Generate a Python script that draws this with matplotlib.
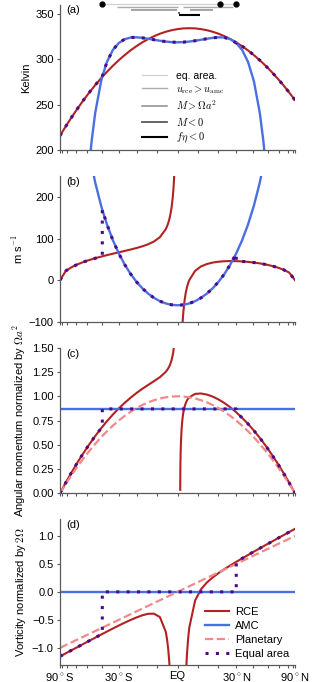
import numpy as np
import matplotlib
matplotlib.use('Agg')
import matplotlib.pyplot as plt
from matplotlib.lines import Line2D

plt.rcParams['font.family'] = ['Liberation Sans', 'DejaVu Sans']
plt.rcParams['mathtext.fontset'] = 'cm'
plt.rcParams['axes.unicode_minus'] = True

# x axis is sine of latitude
sinlat_full = [-1.0, -0.95, -0.9, -0.85, -0.8, -0.75, -0.7, -0.65, -0.64, -0.6, -0.55, -0.5, -0.45, -0.4,
               -0.35, -0.3, -0.25, -0.2, -0.15, -0.1, -0.05, 0.0, 0.05, 0.1, 0.15, 0.2, 0.25, 0.3, 0.35,
               0.4, 0.45, 0.5, 0.55, 0.6, 0.65, 0.7, 0.75, 0.8, 0.85, 0.9, 0.95, 1.0]
theta_rce = [215.8, 226.3, 236.3, 245.8, 254.9, 263.4, 271.5, 279.0, 280.5, 286.1, 292.7, 298.8, 304.4, 309.6,
             314.2, 318.4, 322.0, 325.2, 327.9, 330.1, 331.8, 333.0, 333.8, 334.0, 333.8, 333.0, 331.8, 330.1,
             327.9, 325.2, 322.0, 318.4, 314.2, 309.6, 304.4, 298.8, 292.7, 286.1, 279.0, 271.5, 263.4, 254.9]
planetary_m = [0.0, 0.0975, 0.19, 0.2775, 0.36, 0.4375, 0.51, 0.5775, 0.5904, 0.64, 0.6975, 0.75, 0.7975, 0.84,
               0.8775, 0.91, 0.9375, 0.96, 0.9775, 0.99, 0.9975, 1.0, 0.9975, 0.99, 0.9775, 0.96, 0.9375, 0.91,
               0.8775, 0.84, 0.7975, 0.75, 0.6975, 0.64, 0.5775, 0.51, 0.4375, 0.36, 0.2775, 0.19, 0.0975, 0.0]

sinlat_amc_theta = [-0.75, -0.73, -0.7, -0.65, -0.64, -0.6, -0.55, -0.5, -0.45, -0.4, -0.35, -0.3, -0.25, -0.2,
                    -0.15, -0.1, -0.05, 0.0, 0.05, 0.1, 0.15, 0.2, 0.25, 0.3, 0.35, 0.4, 0.45, 0.5, 0.55, 0.6,
                    0.65, 0.7, 0.73, 0.75]
theta_amc = [184.8, 210.8, 241.2, 275.8, 280.9, 297.1, 310.1, 317.7, 321.9, 323.7, 324.0, 323.4, 322.4, 321.3,
             320.2, 319.3, 318.7, 318.5, 318.7, 319.3, 320.2, 321.3, 322.4, 323.4, 324.0, 323.7, 321.9, 317.7,
             310.1, 297.1, 275.8, 241.2, 210.8, 184.8]

sinlat_amc_u = [-0.8, -0.75, -0.7, -0.65, -0.64, -0.6, -0.55, -0.5, -0.45, -0.4, -0.35, -0.3, -0.25, -0.2, -0.15,
                -0.1, -0.05, 0.0, 0.05, 0.1, 0.15, 0.2, 0.25, 0.3, 0.35, 0.4, 0.45, 0.5, 0.55, 0.6, 0.65, 0.7,
                0.75, 0.8]
u_amc = [395.3, 304.1, 234.4, 179.0, 169.2, 133.7, 96.0, 64.4, 37.8, 15.2, -3.7, -19.5, -32.4, -42.7, -50.6,
         -56.1, -59.4, -60.5, -59.4, -56.1, -50.6, -42.7, -32.4, -19.5, -3.7, 15.2, 37.8, 64.4, 96.0, 133.7,
         179.0, 234.4, 304.1, 395.3]
m_amc = 0.87
vort_amc = 0.0

# RCE winds / momentum / vorticity, southern and northern branches
sinlat_rce_s = [-1.0, -0.95, -0.9, -0.85, -0.8, -0.75, -0.7, -0.65, -0.64, -0.6, -0.55, -0.5, -0.45, -0.4, -0.35,
                -0.3, -0.25, -0.2, -0.15, -0.1, -0.09, -0.08, -0.07, -0.06, -0.05, -0.04, -0.035, -0.03, -0.025,
                -0.02]
u_rce_s = [0.0, 22.4, 31.4, 38.1, 43.7, 48.5, 52.7, 56.6, 57.4, 60.2, 63.6, 66.9, 70.2, 73.6, 77.2, 81.3, 86.3,
           93.0, 103.3, 122.6, 128.8, 136.4, 146.0, 158.6, 175.7, 200.6, 217.8, 240.1, 270.1, 313.0]
m_rce_s = [0.0, 0.113, 0.219, 0.321, 0.416, 0.506, 0.591, 0.67, 0.685, 0.744, 0.812, 0.875, 0.932, 0.985, 1.033,
           1.077, 1.117, 1.156, 1.197, 1.252, 1.268, 1.286, 1.308, 1.337, 1.375, 1.429, 1.467, 1.515, 1.58, 1.673]
vort_rce_s = [-1.153, -1.097, -1.041, -0.985, -0.929, -0.873, -0.818, -0.763, -0.752, -0.709, -0.655, -0.602,
              -0.551, -0.503, -0.458, -0.419, -0.392, -0.39, -0.45, -0.713, -0.834, -1.003, -1.251, -1.628, -2.24,
              -3.326, -4.215, -5.535, -7.624, -11.234]

sinlat_rce_n = [0.0231, 0.024, 0.025, 0.027, 0.03, 0.035, 0.04, 0.045, 0.05, 0.06, 0.07, 0.08, 0.09, 0.1, 0.15,
                0.2, 0.25, 0.3, 0.35, 0.4, 0.45, 0.5, 0.55, 0.6, 0.65, 0.7, 0.75, 0.8, 0.85, 0.9, 0.95, 1.0]
u_rce_n = [-448.1, -360.9, -317.9, -262.8, -210.2, -155.5, -120.1, -94.8, -75.9, -49.0, -30.8, -17.7, -7.8, 0.0,
           22.4, 33.0, 38.8, 42.3, 44.4, 45.5, 45.9, 45.7, 45.0, 43.9, 42.3, 40.3, 37.7, 34.5, 30.5, 25.4, 18.3, 0.0]
m_rce_n = [0.036, 0.223, 0.316, 0.434, 0.547, 0.665, 0.74, 0.794, 0.835, 0.891, 0.929, 0.956, 0.975, 0.99, 1.025,
           1.029, 1.018, 0.997, 0.967, 0.93, 0.886, 0.835, 0.778, 0.716, 0.647, 0.572, 0.491, 0.404, 0.312, 0.214,
           0.11, 0.0]
vort_rce_n = [-389.807, -58.192, -37.916, -23.643, -15.184, -9.166, -6.281, -4.609, -3.535, -2.267, -1.566,
              -1.134, -0.846, -0.642, -0.153, 0.047, 0.168, 0.259, 0.337, 0.407, 0.473, 0.537, 0.598, 0.659,
              0.719, 0.778, 0.837, 0.895, 0.953, 1.011, 1.069, 1.127]

planetary_vort_lat = [-1.0, 1.0]
planetary_vort = [-1.0, 1.0]

# Hadley cell edges from the equal area construction
eq_edges = [-0.64, 0.5]
eq_dots = [-0.64, 0.36, 0.5]

# ranges drawn over panel (a)
range_labels = ['eq. area.', r'$u_{\rm rce} > u_{\rm amc}$', r'$M > \Omega a^2$', r'$M < 0$', r'$f\eta < 0$']
ranges = [[(-0.64, 0.5)],
          [(-0.517, 0.0), (0.047, 0.47)],
          [(-0.398, -0.007), (0.106, 0.30)],
          [(0.0, 0.023)],
          [(0.015, 0.19)]]
range_levels = [360.3, 357.6, 354.2, 350.9, 348.0]
range_colors = ['0.82', '0.68', '0.55', '0.35', '0.0']
range_widths = [0.9, 1.0, 1.1, 1.3, 1.5]

tick_lats = list(range(-90, 91, 10))
tick_names = {-90: '90$^\\circ$S', -30: '30$^\\circ$S', 0: 'EQ', 30: '30$^\\circ$N', 90: '90$^\\circ$N'}

C_RCE = '#b22222'
C_AMC = '#4a6fe3'
C_PLAN = '#f08a8a'
C_EQ = '#4b0a86'
EQ_LS = (0, (1, 2.4))
EQ_LW = 2.2


def pick(x, v, lo, hi):
    x = np.asarray(x)
    v = np.asarray(v)
    k = (x >= lo) & (x <= hi)
    return list(x[k]), list(v[k])


ys, yn = eq_edges

fig = plt.figure(figsize=(3.15, 6.82), dpi=100)
L, W, H = 0.1905, 0.746, 0.2133
bottoms = [0.780, 0.5283, 0.2767, 0.0255]
axs = [fig.add_axes([L, b, W, H]) for b in bottoms]

for i, ax in enumerate(axs):
    ax.set_xlim(-1, 1)
    ax.set_xticks(np.sin(np.radians(tick_lats)))
    if i == 3:
        ax.set_xticklabels([tick_names.get(t, '') for t in tick_lats])
    else:
        ax.set_xticklabels([])
    for s in ['top', 'right']:
        ax.spines[s].set_visible(False)
    for s in ['left', 'bottom']:
        ax.spines[s].set_color('0.35')
        ax.spines[s].set_linewidth(0.9)
    ax.tick_params(length=2.5, width=0.8, color='0.35', labelsize=8, pad=2)
    ax.text(0.025, 0.995, '(%s)' % 'abcd'[i], transform=ax.transAxes, ha='left', va='top', fontsize=8)

# (a) temperature
ax = axs[0]
ax.plot(sinlat_full, theta_rce, color=C_RCE, lw=1.5)
ax.plot(sinlat_amc_theta, theta_amc, color=C_AMC, lw=1.7)
x1, v1 = pick(sinlat_full, theta_rce, -1, ys)
x2, v2 = pick(sinlat_amc_theta, theta_amc, ys, yn)
x3, v3 = pick(sinlat_full, theta_rce, yn, 1)
ax.plot(x1 + x2 + x3, v1 + v2 + v3, color=C_EQ, lw=EQ_LW, ls=EQ_LS)
ax.set_ylim(200, 360)
ax.set_yticks([200, 250, 300, 350])
ax.set_ylabel('Kelvin', fontsize=8, labelpad=3)
handles = []
for rr, lev, col, lw in zip(ranges, range_levels, range_colors, range_widths):
    for a, b in rr:
        ax.plot([a, b], [lev, lev], color=col, lw=lw, clip_on=False, solid_capstyle='butt')
    handles.append(Line2D([], [], color=col, lw=lw))
ax.plot(eq_dots, [range_levels[0]] * len(eq_dots), 'o', color='k', ms=3.5, clip_on=False)
ax.legend(handles, range_labels, loc='lower left', bbox_to_anchor=(0.31, -0.03), frameon=False,
          fontsize=7.5, handlelength=2.4, handletextpad=0.8, labelspacing=0.3)

# (b) zonal wind
ax = axs[1]
ax.plot(sinlat_rce_s, u_rce_s, color=C_RCE, lw=1.5)
ax.plot(sinlat_rce_n, u_rce_n, color=C_RCE, lw=1.5)
ax.plot(sinlat_amc_u, u_amc, color=C_AMC, lw=1.7)
x1, v1 = pick(sinlat_rce_s, u_rce_s, -1, ys)
x2, v2 = pick(sinlat_amc_u, u_amc, ys, yn)
x3, v3 = pick(sinlat_rce_n, u_rce_n, yn, 1)
ax.plot(x1 + x2 + x3, v1 + v2 + v3, color=C_EQ, lw=EQ_LW, ls=EQ_LS)
ax.set_ylim(-100, 250)
ax.set_yticks([-100, 0, 100, 200])
ax.set_ylabel('m s$^{-1}$', fontsize=8, labelpad=3)

# (c) angular momentum
ax = axs[2]
ax.plot(sinlat_rce_s, m_rce_s, color=C_RCE, lw=1.5)
ax.plot(sinlat_rce_n, m_rce_n, color=C_RCE, lw=1.5)
ax.axhline(m_amc, color=C_AMC, lw=1.7)
ax.plot(sinlat_full, planetary_m, color=C_PLAN, lw=1.6, ls='--')
x1, v1 = pick(sinlat_rce_s, m_rce_s, -1, ys)
x3, v3 = pick(sinlat_rce_n, m_rce_n, yn, 1)
ax.plot(x1 + [ys, yn] + x3, v1 + [m_amc, m_amc] + v3, color=C_EQ, lw=EQ_LW, ls=EQ_LS)
ax.set_ylim(0, 1.5)
ax.set_yticks([0, 0.25, 0.5, 0.75, 1.0, 1.25, 1.5])
ax.set_ylabel(r'Angular momentum normalized by $\Omega a^2$', fontsize=8, labelpad=3)

# (d) absolute vorticity
ax = axs[3]
ax.plot(sinlat_rce_s, vort_rce_s, color=C_RCE, lw=1.5, label='RCE')
ax.plot(sinlat_rce_n, vort_rce_n, color=C_RCE, lw=1.5)
ax.axhline(vort_amc, color=C_AMC, lw=1.7, label='AMC')
ax.plot(planetary_vort_lat, planetary_vort, color=C_PLAN, lw=1.6, ls='--', label='Planetary')
x1, v1 = pick(sinlat_rce_s, vort_rce_s, -1, ys)
x3, v3 = pick(sinlat_rce_n, vort_rce_n, yn, 1)
ax.plot(x1 + [ys, yn] + x3, v1 + [vort_amc, vort_amc] + v3, color=C_EQ, lw=EQ_LW, ls=EQ_LS,
        label='Equal area')
ax.set_ylim(-1.3, 1.3)
ax.set_yticks([-1.0, -0.5, 0.0, 0.5, 1.0])
ax.set_ylabel(r'Vorticity normalized by $2\Omega$', fontsize=8, labelpad=3)
ax.legend(loc='lower right', bbox_to_anchor=(1.02, -0.03), frameon=False, fontsize=8,
          handlelength=2.1, handletextpad=0.6, labelspacing=0.35)

fig.savefig('out.png', dpi=100)
